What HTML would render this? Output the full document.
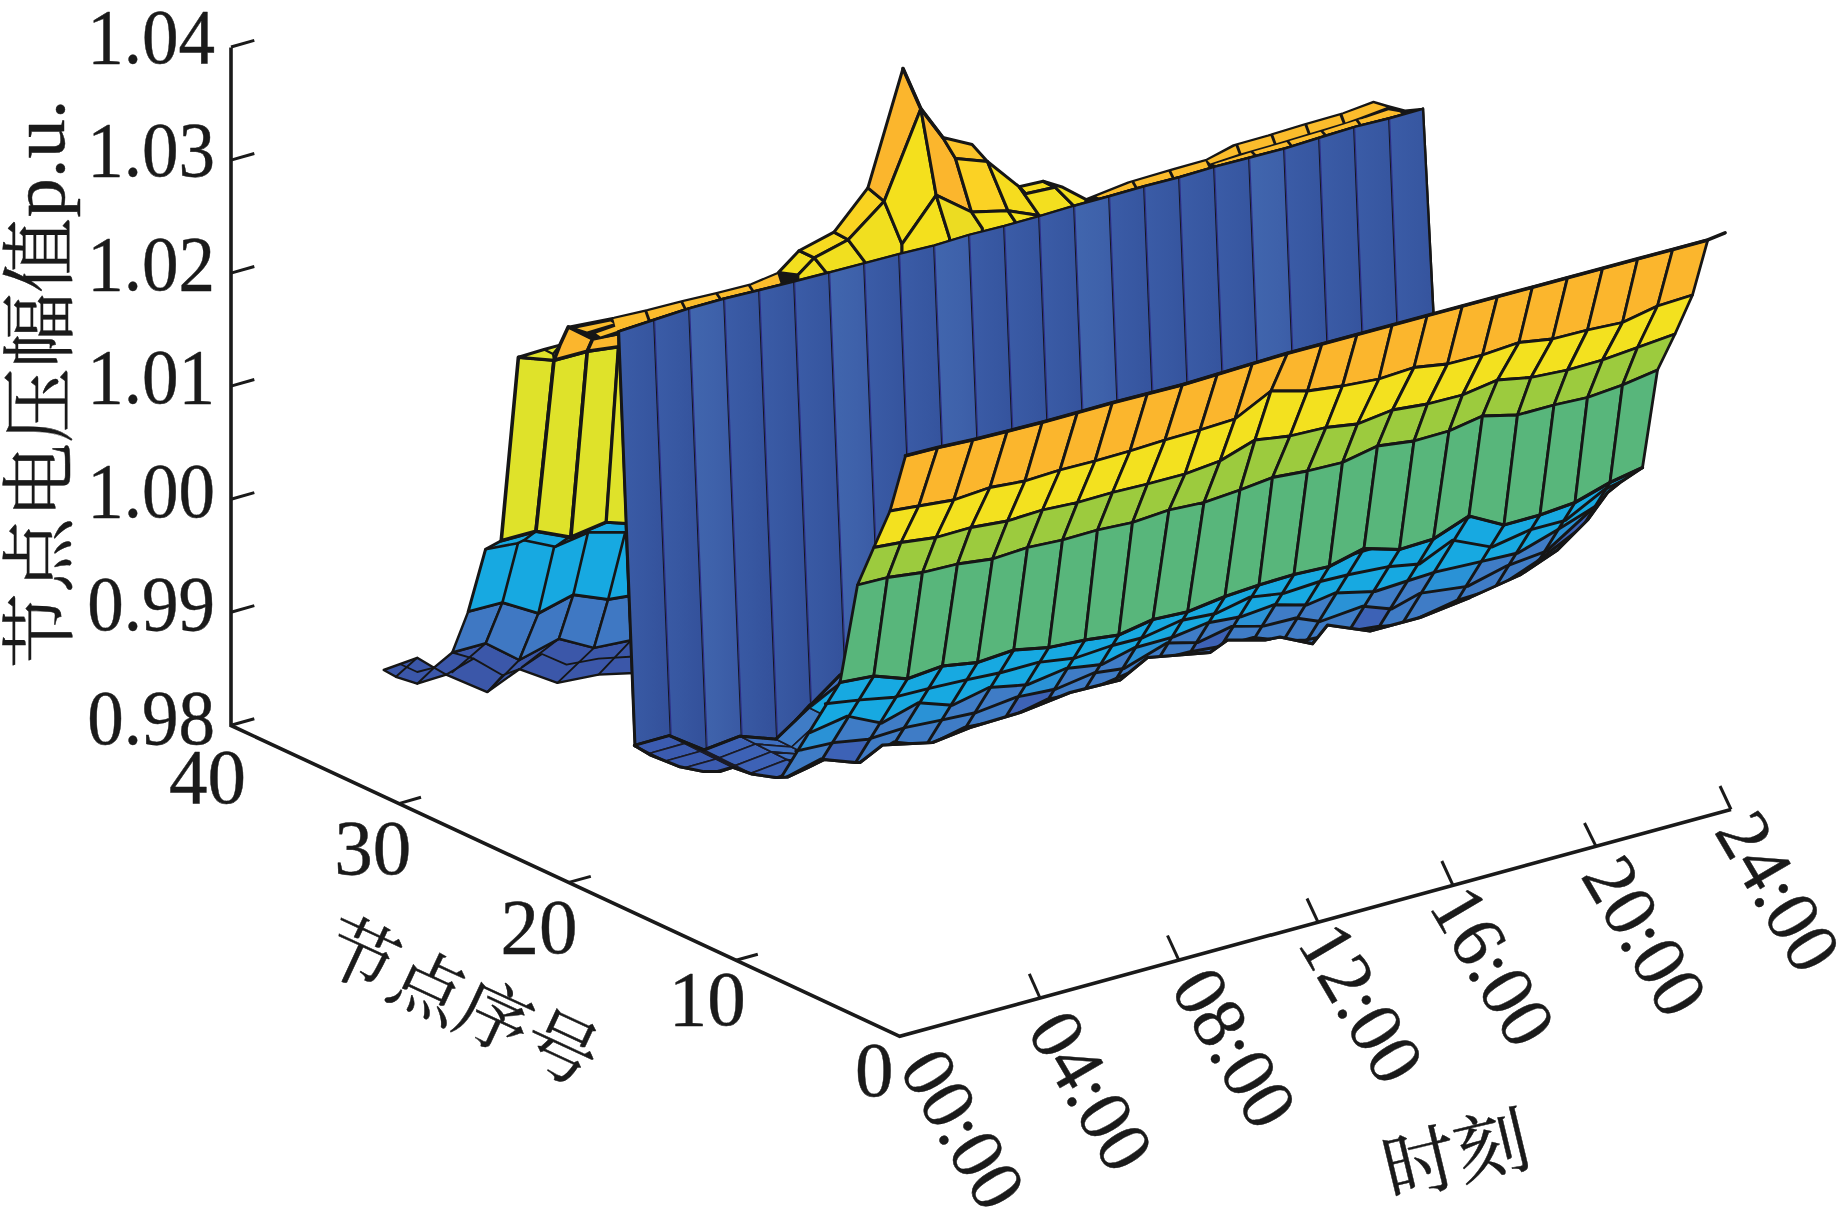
<!DOCTYPE html>
<html lang="zh"><head><meta charset="utf-8"><title>节点电压幅值</title>
<style>html,body{margin:0;padding:0;background:#fff}svg{display:block}</style></head>
<body><svg width="1842" height="1208" viewBox="0 0 1842 1208">
<rect width="1842" height="1208" fill="#ffffff"/>
<polyline points="231.0,47.5 231.0,725.5 899.7,1036.3 1731.0,809.5" fill="none" stroke="#1a1a1a" stroke-width="3.6" stroke-linejoin="miter" stroke-linecap="butt"/>
<line x1="231.0" y1="47.0" x2="254.3" y2="40.4" stroke="#1a1a1a" stroke-width="3.0" stroke-linecap="butt"/>
<line x1="231.0" y1="160.1" x2="254.3" y2="153.5" stroke="#1a1a1a" stroke-width="3.0" stroke-linecap="butt"/>
<line x1="231.0" y1="273.1" x2="254.3" y2="266.5" stroke="#1a1a1a" stroke-width="3.0" stroke-linecap="butt"/>
<line x1="231.0" y1="386.1" x2="254.3" y2="379.5" stroke="#1a1a1a" stroke-width="3.0" stroke-linecap="butt"/>
<line x1="231.0" y1="499.2" x2="254.3" y2="492.6" stroke="#1a1a1a" stroke-width="3.0" stroke-linecap="butt"/>
<line x1="231.0" y1="612.2" x2="254.3" y2="605.6" stroke="#1a1a1a" stroke-width="3.0" stroke-linecap="butt"/>
<line x1="231.0" y1="725.3" x2="254.3" y2="718.7" stroke="#1a1a1a" stroke-width="3.0" stroke-linecap="butt"/>
<line x1="398.8" y1="803.6" x2="421.0" y2="797.2" stroke="#1a1a1a" stroke-width="3.0" stroke-linecap="butt"/>
<line x1="568.8" y1="882.4" x2="590.8" y2="876.4" stroke="#1a1a1a" stroke-width="3.0" stroke-linecap="butt"/>
<line x1="735.9" y1="960.3" x2="757.8" y2="954.2" stroke="#1a1a1a" stroke-width="3.0" stroke-linecap="butt"/>
<line x1="1040.0" y1="998.0" x2="1029.3" y2="973.8" stroke="#1a1a1a" stroke-width="3.0" stroke-linecap="butt"/>
<line x1="1178.8" y1="960.2" x2="1167.5" y2="935.5" stroke="#1a1a1a" stroke-width="3.0" stroke-linecap="butt"/>
<line x1="1318.0" y1="922.2" x2="1307.0" y2="898.5" stroke="#1a1a1a" stroke-width="3.0" stroke-linecap="butt"/>
<line x1="1453.0" y1="885.4" x2="1441.8" y2="861.0" stroke="#1a1a1a" stroke-width="3.0" stroke-linecap="butt"/>
<line x1="1596.0" y1="846.4" x2="1584.5" y2="823.0" stroke="#1a1a1a" stroke-width="3.0" stroke-linecap="butt"/>
<line x1="1731.0" y1="809.5" x2="1720.0" y2="786.0" stroke="#1a1a1a" stroke-width="3.0" stroke-linecap="butt"/>
<text x="0" y="0.0" text-anchor="end" font-size="79.0" font-family='"Liberation Serif","Noto Serif CJK SC",serif' fill="#1a1a1a" stroke="#1a1a1a" stroke-width="0.45" stroke-linejoin="round" transform="translate(215.0,62.8) rotate(0.00) scale(0.925,1)">1.04</text>
<text x="0" y="0.0" text-anchor="end" font-size="79.0" font-family='"Liberation Serif","Noto Serif CJK SC",serif' fill="#1a1a1a" stroke="#1a1a1a" stroke-width="0.45" stroke-linejoin="round" transform="translate(215.0,176.2) rotate(0.00) scale(0.925,1)">1.03</text>
<text x="0" y="0.0" text-anchor="end" font-size="79.0" font-family='"Liberation Serif","Noto Serif CJK SC",serif' fill="#1a1a1a" stroke="#1a1a1a" stroke-width="0.45" stroke-linejoin="round" transform="translate(215.0,289.7) rotate(0.00) scale(0.925,1)">1.02</text>
<text x="0" y="0.0" text-anchor="end" font-size="79.0" font-family='"Liberation Serif","Noto Serif CJK SC",serif' fill="#1a1a1a" stroke="#1a1a1a" stroke-width="0.45" stroke-linejoin="round" transform="translate(215.0,403.2) rotate(0.00) scale(0.925,1)">1.01</text>
<text x="0" y="0.0" text-anchor="end" font-size="79.0" font-family='"Liberation Serif","Noto Serif CJK SC",serif' fill="#1a1a1a" stroke="#1a1a1a" stroke-width="0.45" stroke-linejoin="round" transform="translate(215.0,516.6) rotate(0.00) scale(0.925,1)">1.00</text>
<text x="0" y="0.0" text-anchor="end" font-size="79.0" font-family='"Liberation Serif","Noto Serif CJK SC",serif' fill="#1a1a1a" stroke="#1a1a1a" stroke-width="0.45" stroke-linejoin="round" transform="translate(215.0,630.0) rotate(0.00) scale(0.925,1)">0.99</text>
<text x="0" y="0.0" text-anchor="end" font-size="79.0" font-family='"Liberation Serif","Noto Serif CJK SC",serif' fill="#1a1a1a" stroke="#1a1a1a" stroke-width="0.45" stroke-linejoin="round" transform="translate(215.0,743.5) rotate(0.00) scale(0.925,1)">0.98</text>
<text x="0" y="0.0" text-anchor="middle" font-size="79.0" font-family='"Liberation Serif","Noto Serif CJK SC",serif' fill="#1a1a1a" stroke="#1a1a1a" stroke-width="0.45" stroke-linejoin="round" transform="translate(207.5,803.0) rotate(0.00) scale(0.975,1)">40</text>
<text x="0" y="0.0" text-anchor="middle" font-size="79.0" font-family='"Liberation Serif","Noto Serif CJK SC",serif' fill="#1a1a1a" stroke="#1a1a1a" stroke-width="0.45" stroke-linejoin="round" transform="translate(372.7,873.6) rotate(0.00) scale(0.975,1)">30</text>
<text x="0" y="0.0" text-anchor="middle" font-size="79.0" font-family='"Liberation Serif","Noto Serif CJK SC",serif' fill="#1a1a1a" stroke="#1a1a1a" stroke-width="0.45" stroke-linejoin="round" transform="translate(539.0,952.8) rotate(0.00) scale(0.975,1)">20</text>
<text x="0" y="0.0" text-anchor="middle" font-size="79.0" font-family='"Liberation Serif","Noto Serif CJK SC",serif' fill="#1a1a1a" stroke="#1a1a1a" stroke-width="0.45" stroke-linejoin="round" transform="translate(707.2,1025.0) rotate(0.00) scale(0.975,1)">10</text>
<text x="0" y="0.0" text-anchor="middle" font-size="79.0" font-family='"Liberation Serif","Noto Serif CJK SC",serif' fill="#1a1a1a" stroke="#1a1a1a" stroke-width="0.45" stroke-linejoin="round" transform="translate(874.2,1095.6) rotate(0.00) scale(0.975,1)">0</text>
<text x="0" y="25.5" text-anchor="middle" font-size="76.0" font-family='"Liberation Serif","Noto Serif CJK SC",serif' fill="#1a1a1a" stroke="#1a1a1a" stroke-width="0.45" stroke-linejoin="round" transform="translate(963.0,1129.0) rotate(59.50) scale(0.980,1)">00:00</text>
<text x="0" y="25.5" text-anchor="middle" font-size="76.0" font-family='"Liberation Serif","Noto Serif CJK SC",serif' fill="#1a1a1a" stroke="#1a1a1a" stroke-width="0.45" stroke-linejoin="round" transform="translate(1091.0,1090.8) rotate(59.50) scale(0.980,1)">04:00</text>
<text x="0" y="25.5" text-anchor="middle" font-size="76.0" font-family='"Liberation Serif","Noto Serif CJK SC",serif' fill="#1a1a1a" stroke="#1a1a1a" stroke-width="0.45" stroke-linejoin="round" transform="translate(1234.5,1047.8) rotate(59.50) scale(0.980,1)">08:00</text>
<text x="0" y="25.5" text-anchor="middle" font-size="76.0" font-family='"Liberation Serif","Noto Serif CJK SC",serif' fill="#1a1a1a" stroke="#1a1a1a" stroke-width="0.45" stroke-linejoin="round" transform="translate(1361.5,1003.0) rotate(59.50) scale(0.980,1)">12:00</text>
<text x="0" y="25.5" text-anchor="middle" font-size="76.0" font-family='"Liberation Serif","Noto Serif CJK SC",serif' fill="#1a1a1a" stroke="#1a1a1a" stroke-width="0.45" stroke-linejoin="round" transform="translate(1493.0,966.0) rotate(59.50) scale(0.980,1)">16:00</text>
<text x="0" y="25.5" text-anchor="middle" font-size="76.0" font-family='"Liberation Serif","Noto Serif CJK SC",serif' fill="#1a1a1a" stroke="#1a1a1a" stroke-width="0.45" stroke-linejoin="round" transform="translate(1645.0,936.0) rotate(59.50) scale(0.980,1)">20:00</text>
<text x="0" y="25.5" text-anchor="middle" font-size="76.0" font-family='"Liberation Serif","Noto Serif CJK SC",serif' fill="#1a1a1a" stroke="#1a1a1a" stroke-width="0.45" stroke-linejoin="round" transform="translate(1778.5,891.5) rotate(59.50) scale(0.980,1)">24:00</text>
<text x="0" y="27.0" text-anchor="middle" font-size="73.5" font-family='"Liberation Serif","Noto Serif CJK SC",serif' fill="#1a1a1a" stroke="#1a1a1a" stroke-width="0.45" stroke-linejoin="round" transform="translate(461.5,1001.0) rotate(24.80) scale(1.000,1)">节点序号</text>
<text x="0" y="27.0" text-anchor="middle" font-size="74.0" font-family='"Liberation Serif","Noto Serif CJK SC",serif' fill="#1a1a1a" stroke="#1a1a1a" stroke-width="0.45" stroke-linejoin="round" transform="translate(1456.0,1154.0) rotate(-13.50) scale(1.000,1)">时刻</text>
<text x="0" y="0.0" text-anchor="start" font-size="75.0" font-family='"Liberation Serif","Noto Serif CJK SC",serif' fill="#1a1a1a" stroke="#1a1a1a" stroke-width="0.45" stroke-linejoin="round" transform="translate(66.0,668.0) rotate(-90.00) scale(1.000,1)">节点电压幅值</text>
<text x="0" y="0.0" text-anchor="start" font-size="75.6" font-family='"Liberation Serif","Noto Serif CJK SC",serif' fill="#1a1a1a" stroke="#1a1a1a" stroke-width="0.45" stroke-linejoin="round" transform="translate(64.0,217.5) rotate(-90.00) scale(1.040,1)">p.u.</text>
<polygon points="383.7,670.0 417.2,657.8 434.0,667.7 452.3,652.5 485.8,643.3 519.3,660.0 558.9,638.8 594.0,647.9 631.0,640.3 634.0,673.0 598.5,674.6 557.4,682.9 519.3,669.2 487.3,692.1 446.2,674.6 417.2,683.7 395.9,676.8" fill="#3b57a9" stroke="#161616" stroke-width="2.4" stroke-linejoin="round" />
<polyline points="417.2,657.8 395.9,676.8" fill="none" stroke="#161616" stroke-width="1.9" stroke-linejoin="round" stroke-linecap="round" />
<polyline points="434.0,667.7 417.2,683.7" fill="none" stroke="#161616" stroke-width="1.9" stroke-linejoin="round" stroke-linecap="round" />
<polyline points="400.0,664.0 417.2,672.0 434.0,667.7" fill="none" stroke="#161616" stroke-width="1.9" stroke-linejoin="round" stroke-linecap="round" />
<polyline points="452.3,652.5 473.6,658.6 502.5,675.3 519.3,669.2" fill="none" stroke="#161616" stroke-width="1.9" stroke-linejoin="round" stroke-linecap="round" />
<polyline points="434.0,667.7 446.2,674.6" fill="none" stroke="#161616" stroke-width="1.9" stroke-linejoin="round" stroke-linecap="round" />
<polyline points="485.8,643.3 452.3,672.3" fill="none" stroke="#161616" stroke-width="1.9" stroke-linejoin="round" stroke-linecap="round" />
<polyline points="473.6,658.6 446.2,674.6" fill="none" stroke="#161616" stroke-width="1.9" stroke-linejoin="round" stroke-linecap="round" />
<polyline points="519.3,660.0 487.3,692.1" fill="none" stroke="#161616" stroke-width="1.9" stroke-linejoin="round" stroke-linecap="round" />
<polyline points="502.5,675.3 487.3,692.1" fill="none" stroke="#161616" stroke-width="1.9" stroke-linejoin="round" stroke-linecap="round" />
<polyline points="519.3,669.2 542.0,654.0 566.5,664.6 598.5,658.6 634.0,656.5" fill="none" stroke="#161616" stroke-width="1.9" stroke-linejoin="round" stroke-linecap="round" />
<polyline points="558.9,638.8 522.0,667.0" fill="none" stroke="#161616" stroke-width="1.9" stroke-linejoin="round" stroke-linecap="round" />
<polyline points="594.0,647.9 557.4,682.9" fill="none" stroke="#161616" stroke-width="1.9" stroke-linejoin="round" stroke-linecap="round" />
<polyline points="631.0,640.3 598.5,674.6" fill="none" stroke="#161616" stroke-width="1.9" stroke-linejoin="round" stroke-linecap="round" />
<polygon points="468.2,611.6 502.4,602.6 485.8,643.3 452.3,652.5" fill="#3f78c3" stroke="#161616" stroke-width="2.5" stroke-linejoin="round" />
<polygon points="502.4,602.6 538.4,613.4 519.3,660.0 485.8,643.3" fill="#3f78c3" stroke="#161616" stroke-width="2.5" stroke-linejoin="round" />
<polygon points="538.4,613.4 573.3,594.8 558.9,638.8 519.3,660.0" fill="#3f78c3" stroke="#161616" stroke-width="2.5" stroke-linejoin="round" />
<polygon points="573.3,594.8 608.1,599.6 594.0,647.9 558.9,638.8" fill="#3f78c3" stroke="#161616" stroke-width="2.5" stroke-linejoin="round" />
<polygon points="608.1,599.6 629.0,596.0 631.0,640.3 594.0,647.9" fill="#3f78c3" stroke="#161616" stroke-width="2.5" stroke-linejoin="round" />
<polygon points="485.6,549.2 501.2,540.8 536.0,531.2 570.9,537.2 606.3,522.2 626.0,523.4 629.0,596.0 608.1,599.6 573.3,594.8 538.4,613.4 502.4,602.6 468.2,611.6" fill="#17a9e1" stroke="#161616" stroke-width="3" stroke-linejoin="round" />
<polyline points="485.6,549.2 518.0,543.2 524.0,540.2 555.2,546.8 588.9,532.4 626.0,532.4" fill="none" stroke="#161616" stroke-width="2.6" stroke-linejoin="round" stroke-linecap="round" />
<polyline points="555.2,546.8 567.3,538.4 570.9,537.2" fill="none" stroke="#161616" stroke-width="2.6" stroke-linejoin="round" stroke-linecap="round" />
<polyline points="524.0,540.2 536.0,531.2" fill="none" stroke="#161616" stroke-width="2.6" stroke-linejoin="round" stroke-linecap="round" />
<polyline points="518.0,543.2 502.4,602.6" fill="none" stroke="#161616" stroke-width="2.6" stroke-linejoin="round" stroke-linecap="round" />
<polyline points="554.0,547.4 538.4,613.4" fill="none" stroke="#161616" stroke-width="2.6" stroke-linejoin="round" stroke-linecap="round" />
<polyline points="587.7,533.6 573.3,594.8" fill="none" stroke="#161616" stroke-width="2.6" stroke-linejoin="round" stroke-linecap="round" />
<polyline points="624.9,533.6 608.1,599.6" fill="none" stroke="#161616" stroke-width="2.6" stroke-linejoin="round" stroke-linecap="round" />
<polygon points="518.4,357.2 554.0,360.3 536.0,531.2 501.2,540.8" fill="#dfe22a" stroke="#161616" stroke-width="3.6" stroke-linejoin="round" />
<polygon points="554.0,360.3 587.3,351.2 570.9,537.2 536.0,531.2" fill="#dfe22a" stroke="#161616" stroke-width="3.6" stroke-linejoin="round" />
<polygon points="587.3,351.2 618.6,346.6 606.3,522.2 570.9,537.2" fill="#dfe22a" stroke="#161616" stroke-width="3.6" stroke-linejoin="round" />
<polygon points="618.6,346.6 622.0,346.0 627.0,523.4 606.3,522.2" fill="#dfe22a" stroke="#161616" stroke-width="3" stroke-linejoin="round" />
<polygon points="518.4,357.2 544.0,349.5 559.9,345.1 554.0,360.3" fill="#dfe22a" stroke="#161616" stroke-width="3" stroke-linejoin="round" />
<polyline points="544.0,349.5 553.0,354.0 554.0,360.3" fill="none" stroke="#161616" stroke-width="2.2" stroke-linejoin="round" stroke-linecap="round" />
<polyline points="553.0,354.0 559.9,345.1" fill="none" stroke="#161616" stroke-width="2.2" stroke-linejoin="round" stroke-linecap="round" />
<polygon points="559.9,345.1 568.3,326.8 592.7,339.0 587.3,351.2 554.0,360.3" fill="#fbb62d" stroke="#161616" stroke-width="3.6" stroke-linejoin="round" />
<polygon points="587.3,351.2 592.7,339.0 619.0,333.7 619.0,346.6" fill="#fbb62d" stroke="#161616" stroke-width="3.4" stroke-linejoin="round" />
<polygon points="568.3,326.8 614.0,317.7 647.5,310.0 682.5,301.0 717.6,292.6 751.0,284.2 778.3,272.6 799.0,262.0 800.0,282.9 758.7,293.3 723.7,301.7 688.6,311.6 653.6,323.0 618.6,334.4 592.7,339.0" fill="#161616" stroke="#161616" stroke-width="2" stroke-linejoin="round" />
<polygon points="613.4,319.1 644.6,312.0 647.6,320.6 616.4,330.7" fill="#fbbc2c"/>
<polygon points="647.4,311.3 680.6,302.8 683.6,308.8 650.4,319.6" fill="#fbbc2c"/>
<polygon points="683.4,302.1 715.6,294.4 718.6,298.7 686.4,307.9" fill="#fbbc2c"/>
<polygon points="718.4,293.7 748.1,286.2 751.1,290.7 721.4,297.9" fill="#fbbc2c"/>
<polygon points="750.9,285.5 777.6,274.2 780.6,283.4 753.9,290.1" fill="#fbbc2c"/>
<polygon points="577.0,328.3 610.5,321.6 613.5,323.6 587.0,331.6" fill="#fbbc2c"/>
<polygon points="596.0,333.4 618.0,325.8 620.0,328.0 620.0,330.0 600.5,336.4" fill="#fbbc2c"/>
<polygon points="1086.6,199.0 1128.0,182.4 1173.5,169.0 1206.6,159.7 1233.5,145.2 1268.0,135.5 1303.9,124.5 1343.2,113.1 1373.5,101.7 1388.0,105.9 1405.0,110.5 1423.0,108.8 1423.0,111.8 1355.6,129.6 1285.2,151.3 1215.0,169.7 1145.0,189.0 1086.6,205.4" fill="#161616" stroke="#161616" stroke-width="2" stroke-linejoin="round" />
<polygon points="1096.4,196.4 1131.6,182.6 1134.6,187.8 1099.4,197.7" fill="#fbbc2c"/>
<polygon points="1134.4,181.8 1168.6,171.7 1171.6,178.0 1137.4,187.0" fill="#fbbc2c"/>
<polygon points="1171.4,170.9 1205.6,161.3 1208.6,167.4 1174.4,177.2" fill="#fbbc2c"/>
<polygon points="1207.4,160.6 1235.6,145.9 1238.6,154.1 1210.4,163.5" fill="#fbbc2c"/>
<polygon points="1238.4,145.1 1270.6,136.0 1273.6,144.0 1241.4,153.2" fill="#fbbc2c"/>
<polygon points="1273.4,135.1 1304.6,125.6 1307.6,133.8 1276.4,143.2" fill="#fbbc2c"/>
<polygon points="1307.4,124.8 1339.6,115.4 1342.6,123.3 1310.4,133.0" fill="#fbbc2c"/>
<polygon points="1213.4,164.3 1250.6,152.4 1253.6,155.4 1216.4,165.1" fill="#fbbc2c"/>
<polygon points="1253.4,151.6 1286.6,141.9 1289.6,145.7 1256.4,154.6" fill="#fbbc2c"/>
<polygon points="1289.4,141.1 1320.6,131.7 1323.6,135.2 1292.4,144.9" fill="#fbbc2c"/>
<polygon points="1323.4,130.9 1355.6,120.7 1358.6,124.7 1326.4,134.3" fill="#fbbc2c"/>
<polygon points="1358.4,119.7 1398.6,112.4 1401.6,113.7 1361.4,124.0" fill="#fbbc2c"/>
<polygon points="1362.0,119.3 1388.5,110.3 1401.0,112.4 1398.0,113.2 1370.0,118.5" fill="#fbbc2c"/>
<polygon points="1342.6,114.6 1373.5,103.3 1386.5,107.2 1360.0,117.2 1345.5,122.4" fill="#fbbc2c"/>
<polygon points="778.3,272.6 799.0,250.7 814.3,257.8 797.9,275.0" fill="#f3df1f" stroke="#161616" stroke-width="3.0" stroke-linejoin="round" />
<polygon points="797.9,275.0 814.3,257.8 826.3,272.6 826.3,275.2 797.9,282.4" fill="#f3df1f" stroke="#161616" stroke-width="3.0" stroke-linejoin="round" />
<polygon points="799.0,250.7 834.0,232.1 848.2,239.8 814.3,257.8" fill="#f7da20" stroke="#161616" stroke-width="3.0" stroke-linejoin="round" />
<polygon points="814.3,257.8 848.2,239.8 864.6,261.6 864.6,265.1 826.3,275.2 826.3,272.6" fill="#f1df1f" stroke="#161616" stroke-width="3.0" stroke-linejoin="round" />
<polygon points="834.0,232.1 867.9,187.9 884.2,201.3 848.2,239.8" fill="#f9d321" stroke="#161616" stroke-width="3.0" stroke-linejoin="round" />
<polygon points="848.2,239.8 884.2,201.3 902.0,244.2 902.0,255.3 864.6,265.1 864.6,261.6" fill="#f1df1f" stroke="#161616" stroke-width="3.0" stroke-linejoin="round" />
<polygon points="903.0,68.5 920.8,108.7 884.2,201.3 867.9,187.9" fill="#fbb62d" stroke="#161616" stroke-width="3.0" stroke-linejoin="round" />
<polygon points="920.8,108.7 936.2,195.2 902.0,244.2 884.2,201.3" fill="#f4e01d" stroke="#161616" stroke-width="3.0" stroke-linejoin="round" />
<polygon points="920.8,108.7 942.8,137.5 955.5,158.5 971.5,212.0 936.2,195.2" fill="#fbb62d" stroke="#161616" stroke-width="3.0" stroke-linejoin="round" />
<polygon points="942.8,137.5 972.1,144.5 987.4,161.5 955.5,158.5" fill="#fcc42b" stroke="#161616" stroke-width="3.0" stroke-linejoin="round" />
<polygon points="955.5,158.5 987.4,161.5 1008.0,210.8 971.5,212.0" fill="#fbd224" stroke="#161616" stroke-width="3.0" stroke-linejoin="round" />
<polygon points="987.4,161.5 1019.1,186.7 1039.2,215.5 1008.0,210.8" fill="#f6dc1f" stroke="#161616" stroke-width="3.0" stroke-linejoin="round" />
<polygon points="1019.1,186.7 1043.2,181.3 1055.2,187.3 1025.7,193.8" fill="#f6dc20" stroke="#161616" stroke-width="3.0" stroke-linejoin="round" />
<polygon points="1025.7,193.8 1055.2,187.3 1072.7,204.8 1072.7,208.2 1039.2,218.2 1039.2,215.5 1019.1,186.7" fill="#f3df1f" stroke="#161616" stroke-width="3.0" stroke-linejoin="round" />
<polygon points="1043.2,181.3 1062.8,187.3 1085.8,199.3 1085.8,204.6 1072.7,208.2 1072.7,204.8 1055.2,187.3" fill="#f3df1f" stroke="#161616" stroke-width="3.0" stroke-linejoin="round" />
<polygon points="902.0,244.2 936.2,195.2 949.6,238.1 949.6,242.8 902.0,255.3" fill="#f4e01d" stroke="#161616" stroke-width="3.0" stroke-linejoin="round" />
<polygon points="936.2,195.2 971.5,212.0 982.4,228.3 982.4,233.5 949.6,242.8 949.6,238.1" fill="#ecdc22" stroke="#161616" stroke-width="3.0" stroke-linejoin="round" />
<polygon points="971.5,212.0 1008.0,210.8 1015.2,221.7 1015.2,224.9 982.4,233.5 982.4,228.3" fill="#f4e01d" stroke="#161616" stroke-width="3.0" stroke-linejoin="round" />
<polygon points="1008.0,210.8 1039.2,215.5 1039.2,218.2 1015.2,224.9 1015.2,221.7" fill="#f4e01d" stroke="#161616" stroke-width="3.0" stroke-linejoin="round" />
<polyline points="903.0,68.5 920.8,108.7 942.8,137.5" fill="none" stroke="#161616" stroke-width="3.6" stroke-linejoin="round" stroke-linecap="round" />
<defs><clipPath id="cw"><polygon points="618.6,331.4 653.6,320.0 688.6,308.6 723.7,298.7 758.7,290.3 793.8,281.5 828.5,272.6 864.4,263.2 899.3,254.0 934.3,245.5 969.3,234.8 1004.3,226.0 1040.0,216.0 1075.0,205.5 1110.0,196.0 1145.0,186.0 1180.0,177.0 1215.0,166.7 1250.0,157.5 1285.2,148.3 1320.0,137.5 1355.6,126.6 1388.7,118.5 1423.0,108.8 1433.5,314.0 1252.4,363.6 1077.4,412.5 905.5,455.8 840.0,683.0 808.5,704.0 776.5,739.5 741.0,736.0 704.0,749.6 667.0,736.0 635.0,746.0"/></clipPath>
<linearGradient id="gw" x1="0" x2="1" y1="0" y2="0"><stop offset="0" stop-color="#3b5ca7"/><stop offset="0.5" stop-color="#3757a1"/><stop offset="1" stop-color="#33509a"/></linearGradient>
<linearGradient id="gw2" x1="0" x2="1" y1="0" y2="0"><stop offset="0" stop-color="#4166ae"/><stop offset="0.5" stop-color="#3e61aa"/><stop offset="1" stop-color="#3959a3"/></linearGradient></defs>
<polygon points="618.6,331.4 653.6,320.0 688.6,308.6 723.7,298.7 758.7,290.3 793.8,281.5 828.5,272.6 864.4,263.2 899.3,254.0 934.3,245.5 969.3,234.8 1004.3,226.0 1040.0,216.0 1075.0,205.5 1110.0,196.0 1145.0,186.0 1180.0,177.0 1215.0,166.7 1250.0,157.5 1285.2,148.3 1320.0,137.5 1355.6,126.6 1388.7,118.5 1423.0,108.8 1433.5,314.0 1252.4,363.6 1077.4,412.5 905.5,455.8 840.0,683.0 808.5,704.0 776.5,739.5 741.0,736.0 704.0,749.6 667.0,736.0 635.0,746.0" fill="#3858a2" stroke="#161616" stroke-width="2.4" stroke-linejoin="round" />
<g clip-path="url(#cw)">
<polygon points="618.6,327.4 653.6,316.0 671.2,760.0 635.7,760.0" fill="url(#gw)"/>
<polygon points="653.6,316.0 688.6,304.6 706.7,760.0 671.2,760.0" fill="url(#gw)"/>
<polygon points="688.6,304.6 723.6,294.7 742.1,760.0 706.7,760.0" fill="url(#gw2)"/>
<polygon points="723.6,294.7 758.6,286.3 777.4,760.0 742.1,760.0" fill="url(#gw)"/>
<polygon points="758.6,286.3 793.6,277.6 812.7,760.0 777.4,760.0" fill="url(#gw)"/>
<polygon points="793.6,277.6 828.6,268.6 848.1,760.0 812.7,760.0" fill="url(#gw)"/>
<polygon points="828.6,268.6 863.6,259.4 883.5,760.0 848.1,760.0" fill="url(#gw2)"/>
<polygon points="863.6,259.4 898.6,250.2 918.8,760.0 883.5,760.0" fill="url(#gw)"/>
<polygon points="898.6,250.2 933.6,241.7 954.2,760.0 918.8,760.0" fill="url(#gw)"/>
<polygon points="933.6,241.7 968.6,231.0 989.6,760.0 954.2,760.0" fill="url(#gw2)"/>
<polygon points="968.6,231.0 1003.6,222.2 1025.0,760.0 989.6,760.0" fill="url(#gw)"/>
<polygon points="1003.6,222.2 1038.6,212.4 1060.3,760.0 1025.0,760.0" fill="url(#gw)"/>
<polygon points="1038.6,212.4 1073.6,201.9 1095.8,760.0 1060.3,760.0" fill="url(#gw)"/>
<polygon points="1073.6,201.9 1108.6,192.4 1131.1,760.0 1095.8,760.0" fill="url(#gw2)"/>
<polygon points="1108.6,192.4 1143.6,182.4 1166.5,760.0 1131.1,760.0" fill="url(#gw)"/>
<polygon points="1143.6,182.4 1178.6,173.4 1201.9,760.0 1166.5,760.0" fill="url(#gw)"/>
<polygon points="1178.6,173.4 1213.6,163.1 1237.3,760.0 1201.9,760.0" fill="url(#gw)"/>
<polygon points="1213.6,163.1 1248.6,153.9 1272.7,760.0 1237.3,760.0" fill="url(#gw)"/>
<polygon points="1248.6,153.9 1283.6,144.7 1308.1,760.0 1272.7,760.0" fill="url(#gw2)"/>
<polygon points="1283.6,144.7 1318.6,133.9 1343.5,760.0 1308.1,760.0" fill="url(#gw)"/>
<polygon points="1318.6,133.9 1353.6,123.2 1378.9,760.0 1343.5,760.0" fill="url(#gw)"/>
<polygon points="1353.6,123.2 1388.6,114.5 1414.3,760.0 1378.9,760.0" fill="url(#gw)"/>
<polygon points="1388.6,114.5 1423.6,104.6 1449.7,760.0 1414.3,760.0" fill="url(#gw)"/>
<line x1="654.7" y1="320.0" x2="672.3" y2="760.0" stroke="#2e2c88" stroke-width="1.1" stroke-linecap="butt" />
<line x1="653.6" y1="320.0" x2="671.2" y2="760.0" stroke="#15151f" stroke-width="1.0" stroke-linecap="butt" />
<line x1="689.7" y1="308.6" x2="707.8" y2="760.0" stroke="#2e2c88" stroke-width="1.1" stroke-linecap="butt" />
<line x1="688.6" y1="308.6" x2="706.7" y2="760.0" stroke="#15151f" stroke-width="1.0" stroke-linecap="butt" />
<line x1="724.7" y1="298.7" x2="743.2" y2="760.0" stroke="#2e2c88" stroke-width="1.1" stroke-linecap="butt" />
<line x1="723.6" y1="298.7" x2="742.1" y2="760.0" stroke="#15151f" stroke-width="1.0" stroke-linecap="butt" />
<line x1="759.7" y1="290.3" x2="778.5" y2="760.0" stroke="#2e2c88" stroke-width="1.1" stroke-linecap="butt" />
<line x1="758.6" y1="290.3" x2="777.4" y2="760.0" stroke="#15151f" stroke-width="1.0" stroke-linecap="butt" />
<line x1="794.7" y1="281.6" x2="813.8" y2="760.0" stroke="#2e2c88" stroke-width="1.1" stroke-linecap="butt" />
<line x1="793.6" y1="281.6" x2="812.7" y2="760.0" stroke="#15151f" stroke-width="1.0" stroke-linecap="butt" />
<line x1="829.7" y1="272.6" x2="849.2" y2="760.0" stroke="#2e2c88" stroke-width="1.1" stroke-linecap="butt" />
<line x1="828.6" y1="272.6" x2="848.1" y2="760.0" stroke="#15151f" stroke-width="1.0" stroke-linecap="butt" />
<line x1="864.7" y1="263.4" x2="884.6" y2="760.0" stroke="#2e2c88" stroke-width="1.1" stroke-linecap="butt" />
<line x1="863.6" y1="263.4" x2="883.5" y2="760.0" stroke="#15151f" stroke-width="1.0" stroke-linecap="butt" />
<line x1="899.7" y1="254.2" x2="919.9" y2="760.0" stroke="#2e2c88" stroke-width="1.1" stroke-linecap="butt" />
<line x1="898.6" y1="254.2" x2="918.8" y2="760.0" stroke="#15151f" stroke-width="1.0" stroke-linecap="butt" />
<line x1="934.7" y1="245.7" x2="955.3" y2="760.0" stroke="#2e2c88" stroke-width="1.1" stroke-linecap="butt" />
<line x1="933.6" y1="245.7" x2="954.2" y2="760.0" stroke="#15151f" stroke-width="1.0" stroke-linecap="butt" />
<line x1="969.7" y1="235.0" x2="990.7" y2="760.0" stroke="#2e2c88" stroke-width="1.1" stroke-linecap="butt" />
<line x1="968.6" y1="235.0" x2="989.6" y2="760.0" stroke="#15151f" stroke-width="1.0" stroke-linecap="butt" />
<line x1="1004.7" y1="226.2" x2="1026.1" y2="760.0" stroke="#2e2c88" stroke-width="1.1" stroke-linecap="butt" />
<line x1="1003.6" y1="226.2" x2="1025.0" y2="760.0" stroke="#15151f" stroke-width="1.0" stroke-linecap="butt" />
<line x1="1039.7" y1="216.4" x2="1061.4" y2="760.0" stroke="#2e2c88" stroke-width="1.1" stroke-linecap="butt" />
<line x1="1038.6" y1="216.4" x2="1060.3" y2="760.0" stroke="#15151f" stroke-width="1.0" stroke-linecap="butt" />
<line x1="1074.7" y1="205.9" x2="1096.9" y2="760.0" stroke="#2e2c88" stroke-width="1.1" stroke-linecap="butt" />
<line x1="1073.6" y1="205.9" x2="1095.8" y2="760.0" stroke="#15151f" stroke-width="1.0" stroke-linecap="butt" />
<line x1="1109.7" y1="196.4" x2="1132.2" y2="760.0" stroke="#2e2c88" stroke-width="1.1" stroke-linecap="butt" />
<line x1="1108.6" y1="196.4" x2="1131.1" y2="760.0" stroke="#15151f" stroke-width="1.0" stroke-linecap="butt" />
<line x1="1144.7" y1="186.4" x2="1167.6" y2="760.0" stroke="#2e2c88" stroke-width="1.1" stroke-linecap="butt" />
<line x1="1143.6" y1="186.4" x2="1166.5" y2="760.0" stroke="#15151f" stroke-width="1.0" stroke-linecap="butt" />
<line x1="1179.7" y1="177.4" x2="1203.0" y2="760.0" stroke="#2e2c88" stroke-width="1.1" stroke-linecap="butt" />
<line x1="1178.6" y1="177.4" x2="1201.9" y2="760.0" stroke="#15151f" stroke-width="1.0" stroke-linecap="butt" />
<line x1="1214.7" y1="167.1" x2="1238.4" y2="760.0" stroke="#2e2c88" stroke-width="1.1" stroke-linecap="butt" />
<line x1="1213.6" y1="167.1" x2="1237.3" y2="760.0" stroke="#15151f" stroke-width="1.0" stroke-linecap="butt" />
<line x1="1249.7" y1="157.9" x2="1273.8" y2="760.0" stroke="#2e2c88" stroke-width="1.1" stroke-linecap="butt" />
<line x1="1248.6" y1="157.9" x2="1272.7" y2="760.0" stroke="#15151f" stroke-width="1.0" stroke-linecap="butt" />
<line x1="1284.7" y1="148.7" x2="1309.2" y2="760.0" stroke="#2e2c88" stroke-width="1.1" stroke-linecap="butt" />
<line x1="1283.6" y1="148.7" x2="1308.1" y2="760.0" stroke="#15151f" stroke-width="1.0" stroke-linecap="butt" />
<line x1="1319.7" y1="137.9" x2="1344.6" y2="760.0" stroke="#2e2c88" stroke-width="1.1" stroke-linecap="butt" />
<line x1="1318.6" y1="137.9" x2="1343.5" y2="760.0" stroke="#15151f" stroke-width="1.0" stroke-linecap="butt" />
<line x1="1354.7" y1="127.2" x2="1380.0" y2="760.0" stroke="#2e2c88" stroke-width="1.1" stroke-linecap="butt" />
<line x1="1353.6" y1="127.2" x2="1378.9" y2="760.0" stroke="#15151f" stroke-width="1.0" stroke-linecap="butt" />
<line x1="1389.7" y1="118.5" x2="1415.4" y2="760.0" stroke="#2e2c88" stroke-width="1.1" stroke-linecap="butt" />
<line x1="1388.6" y1="118.5" x2="1414.3" y2="760.0" stroke="#15151f" stroke-width="1.0" stroke-linecap="butt" />
</g>
<polyline points="635.0,746.0 618.6,331.4" fill="none" stroke="#161616" stroke-width="3" stroke-linejoin="round" stroke-linecap="round" />
<polyline points="1423.0,108.8 1433.5,314.0" fill="none" stroke="#161616" stroke-width="2.4" stroke-linejoin="round" stroke-linecap="round" />
<polyline points="618.6,331.4 653.6,320.0 688.6,308.6 723.7,298.7 758.7,290.3 793.8,281.5 828.5,272.6" fill="none" stroke="#161616" stroke-width="2.6" stroke-linejoin="round" stroke-linecap="round" />
<polyline points="828.5,272.6 864.4,263.2 899.3,254.0 934.3,245.5 969.3,234.8 1004.3,226.0 1040.0,216.0 1075.0,205.5" fill="none" stroke="#161616" stroke-width="2.2" stroke-linejoin="round" stroke-linecap="round" />
<polyline points="1075.0,205.5 1110.0,196.0 1145.0,186.0 1180.0,177.0 1215.0,166.7 1250.0,157.5 1285.2,148.3 1320.0,137.5 1355.6,126.6 1388.7,118.5 1423.0,108.8" fill="none" stroke="#161616" stroke-width="2.4" stroke-linejoin="round" stroke-linecap="round" />
<defs><clipPath id="cs"><polygon points="634.4,745.4 650.0,754.8 680.0,766.8 704.0,771.6 719.6,771.6 732.8,767.4 752.0,774.0 776.0,777.6 788.0,777.0 807.3,768.0 824.0,759.6 855.7,762.5 860.0,762.5 882.5,745.0 932.5,742.5 970.0,727.5 1020.0,712.5 1070.0,692.5 1120.0,680.0 1147.5,657.5 1210.0,652.5 1227.5,640.0 1265.0,640.0 1280.0,637.0 1312.5,643.8 1327.5,625.0 1370.0,631.0 1420.0,617.5 1470.0,597.5 1520.0,575.0 1557.5,550.0 1587.5,520.0 1607.5,492.5 1620.0,482.5 1642.5,467.5 1642.5,460.0 1400.0,540.0 1100.0,630.0 840.0,675.0 809.7,706.0 795.0,721.0 776.0,739.2 740.0,736.2 704.0,750.0 669.2,735.6 634.4,745.4"/></clipPath></defs>
<polygon points="634.4,745.4 650.0,754.8 680.0,766.8 704.0,771.6 719.6,771.6 732.8,767.4 752.0,774.0 776.0,777.6 788.0,777.0 807.3,768.0 824.0,759.6 855.7,762.5 860.0,762.5 882.5,745.0 932.5,742.5 970.0,727.5 1020.0,712.5 1070.0,692.5 1120.0,680.0 1147.5,657.5 1210.0,652.5 1227.5,640.0 1265.0,640.0 1280.0,637.0 1312.5,643.8 1327.5,625.0 1370.0,631.0 1420.0,617.5 1470.0,597.5 1520.0,575.0 1557.5,550.0 1587.5,520.0 1607.5,492.5 1620.0,482.5 1642.5,467.5 1642.5,460.0 1400.0,540.0 1100.0,630.0 840.0,675.0 809.7,706.0 795.0,721.0 776.0,739.2 740.0,736.2 704.0,750.0 669.2,735.6 634.4,745.4" fill="#3e6fbf" stroke="#161616" stroke-width="3" stroke-linejoin="round" />
<g clip-path="url(#cs)">
<polygon points="634.4,745.4 669.2,735.6 684.8,743.4 650.0,753.2" fill="#3b5bb0" stroke="#1b1b26" stroke-width="1.7" stroke-linejoin="round"/>
<polygon points="669.2,735.6 704.0,750.0 719.6,757.8 684.8,743.4" fill="#3c5db2" stroke="#1b1b26" stroke-width="1.7" stroke-linejoin="round"/>
<polygon points="704.0,750.0 740.0,736.2 755.6,744.0 719.6,757.8" fill="#3d62b6" stroke="#1b1b26" stroke-width="1.7" stroke-linejoin="round"/>
<polygon points="740.0,736.2 776.0,739.2 791.6,747.0 755.6,744.0" fill="#3f70c0" stroke="#1b1b26" stroke-width="1.7" stroke-linejoin="round"/>
<polygon points="776.0,739.2 809.7,708.0 825.3,715.8 791.6,747.0" fill="#3f7cc6" stroke="#1b1b26" stroke-width="1.7" stroke-linejoin="round"/>
<polygon points="809.7,708.0 840.0,684.0 855.6,691.8 825.3,715.8" fill="#17a9e1" stroke="#1b1b26" stroke-width="1.7" stroke-linejoin="round"/>
<polygon points="650.0,753.2 684.8,743.4 700.4,751.2 665.6,761.0" fill="#3b5bb0" stroke="#1b1b26" stroke-width="1.7" stroke-linejoin="round"/>
<polygon points="684.8,743.4 719.6,757.8 735.2,765.6 700.4,751.2" fill="#3c5db2" stroke="#1b1b26" stroke-width="1.7" stroke-linejoin="round"/>
<polygon points="719.6,757.8 755.6,744.0 771.2,751.8 735.2,765.6" fill="#3d62b6" stroke="#1b1b26" stroke-width="1.7" stroke-linejoin="round"/>
<polygon points="755.6,744.0 791.6,747.0 807.2,754.8 771.2,751.8" fill="#3f70c0" stroke="#1b1b26" stroke-width="1.7" stroke-linejoin="round"/>
<polygon points="791.6,747.0 825.3,715.8 840.9,723.6 807.2,754.8" fill="#3f7cc6" stroke="#1b1b26" stroke-width="1.7" stroke-linejoin="round"/>
<polygon points="825.3,715.8 855.6,691.8 871.2,699.6 840.9,723.6" fill="#17a9e1" stroke="#1b1b26" stroke-width="1.7" stroke-linejoin="round"/>
<polygon points="665.6,761.0 700.4,751.2 716.0,759.0 681.2,768.8" fill="#3b5bb0" stroke="#1b1b26" stroke-width="1.7" stroke-linejoin="round"/>
<polygon points="700.4,751.2 735.2,765.6 750.8,773.4 716.0,759.0" fill="#3c5db2" stroke="#1b1b26" stroke-width="1.7" stroke-linejoin="round"/>
<polygon points="735.2,765.6 771.2,751.8 786.8,759.6 750.8,773.4" fill="#3d62b6" stroke="#1b1b26" stroke-width="1.7" stroke-linejoin="round"/>
<polygon points="771.2,751.8 807.2,754.8 822.8,762.6 786.8,759.6" fill="#3f70c0" stroke="#1b1b26" stroke-width="1.7" stroke-linejoin="round"/>
<polygon points="807.2,754.8 840.9,723.6 856.5,731.4 822.8,762.6" fill="#3f7cc6" stroke="#1b1b26" stroke-width="1.7" stroke-linejoin="round"/>
<polygon points="840.9,723.6 871.2,699.6 886.8,707.4 856.5,731.4" fill="#3f7cc6" stroke="#1b1b26" stroke-width="1.7" stroke-linejoin="round"/>
<polygon points="681.2,768.8 716.0,759.0 731.6,766.8 696.8,776.6" fill="#3b5bb0" stroke="#1b1b26" stroke-width="1.7" stroke-linejoin="round"/>
<polygon points="716.0,759.0 750.8,773.4 766.4,781.2 731.6,766.8" fill="#3c5db2" stroke="#1b1b26" stroke-width="1.7" stroke-linejoin="round"/>
<polygon points="750.8,773.4 786.8,759.6 802.4,767.4 766.4,781.2" fill="#3d62b6" stroke="#1b1b26" stroke-width="1.7" stroke-linejoin="round"/>
<polygon points="786.8,759.6 822.8,762.6 838.4,770.4 802.4,767.4" fill="#3f70c0" stroke="#1b1b26" stroke-width="1.7" stroke-linejoin="round"/>
<polygon points="822.8,762.6 856.5,731.4 872.1,739.2 838.4,770.4" fill="#3f7cc6" stroke="#1b1b26" stroke-width="1.7" stroke-linejoin="round"/>
<polygon points="856.5,731.4 886.8,707.4 902.4,715.2 872.1,739.2" fill="#3f7cc6" stroke="#1b1b26" stroke-width="1.7" stroke-linejoin="round"/>
<polygon points="840.0,682.5 873.8,676.0 860.5,697.4 825.3,706.2" fill="#17a9e1"/>
<polygon points="825.3,706.2 860.5,697.4 847.2,718.8 810.5,730.0" fill="#17a9e1"/>
<polygon points="810.5,730.0 847.2,718.8 834.0,740.1 795.8,753.8" fill="#2a92d6"/>
<polygon points="795.8,753.8 834.0,740.1 820.7,761.5 781.1,777.5" fill="#3f7cc6"/>
<polygon points="873.8,676.0 907.5,678.8 894.5,699.8 860.5,697.4" fill="#17a9e1"/>
<polygon points="860.5,697.4 894.5,699.8 881.5,720.8 847.2,718.8" fill="#17a9e1"/>
<polygon points="847.2,718.8 881.5,720.8 868.4,741.8 834.0,740.1" fill="#3f7cc6"/>
<polygon points="834.0,740.1 868.4,741.8 855.4,762.8 820.7,761.5" fill="#3d62b6"/>
<polygon points="907.5,678.8 942.5,666.0 930.3,685.6 894.5,699.8" fill="#17a9e1"/>
<polygon points="894.5,699.8 930.3,685.6 918.2,705.2 881.5,720.8" fill="#17a9e1"/>
<polygon points="881.5,720.8 918.2,705.2 906.0,724.9 868.4,741.8" fill="#3f7cc6"/>
<polygon points="868.4,741.8 906.0,724.9 893.8,744.5 855.4,762.8" fill="#3f7cc6"/>
<polygon points="942.5,666.0 977.5,662.5 965.0,682.6 930.3,685.6" fill="#17a9e1"/>
<polygon points="930.3,685.6 965.0,682.6 952.5,702.8 918.2,705.2" fill="#17a9e1"/>
<polygon points="918.2,705.2 952.5,702.8 940.1,722.9 906.0,724.9" fill="#2a92d6"/>
<polygon points="906.0,724.9 940.1,722.9 927.6,743.0 893.8,744.5" fill="#3f7cc6"/>
<polygon points="977.5,662.5 1013.8,650.0 1001.4,670.0 965.0,682.6" fill="#17a9e1"/>
<polygon points="965.0,682.6 1001.4,670.0 989.0,690.0 952.5,702.8" fill="#17a9e1"/>
<polygon points="952.5,702.8 989.0,690.0 976.5,710.0 940.1,722.9" fill="#3f7cc6"/>
<polygon points="940.1,722.9 976.5,710.0 964.1,730.0 927.6,743.0" fill="#3f7cc6"/>
<polygon points="1013.8,650.0 1048.8,647.5 1038.0,664.9 1001.4,670.0" fill="#17a9e1"/>
<polygon points="1001.4,670.0 1038.0,664.9 1027.2,682.2 989.0,690.0" fill="#17a9e1"/>
<polygon points="989.0,690.0 1027.2,682.2 1016.4,699.6 976.5,710.0" fill="#3f7cc6"/>
<polygon points="976.5,710.0 1016.4,699.6 1005.7,717.0 964.1,730.0" fill="#3f7cc6"/>
<polygon points="1048.8,647.5 1085.0,640.0 1075.4,655.5 1038.0,664.9" fill="#17a9e1"/>
<polygon points="1038.0,664.9 1075.4,655.5 1065.8,671.0 1027.2,682.2" fill="#17a9e1"/>
<polygon points="1027.2,682.2 1065.8,671.0 1056.2,686.5 1016.4,699.6" fill="#2a92d6"/>
<polygon points="1016.4,699.6 1056.2,686.5 1046.6,702.0 1005.7,717.0" fill="#3d62b6"/>
<polygon points="1085.0,640.0 1118.8,635.0 1110.4,648.5 1075.4,655.5" fill="#17a9e1"/>
<polygon points="1075.4,655.5 1110.4,648.5 1102.0,662.0 1065.8,671.0" fill="#17a9e1"/>
<polygon points="1065.8,671.0 1102.0,662.0 1093.6,675.5 1056.2,686.5" fill="#3f7cc6"/>
<polygon points="1056.2,686.5 1093.6,675.5 1085.3,689.0 1046.6,702.0" fill="#3f7cc6"/>
<polygon points="1118.8,635.0 1153.0,619.5 1143.4,635.0 1110.4,648.5" fill="#17a9e1"/>
<polygon points="1110.4,648.5 1143.4,635.0 1133.8,650.5 1102.0,662.0" fill="#17a9e1"/>
<polygon points="1102.0,662.0 1133.8,650.5 1124.2,666.0 1093.6,675.5" fill="#3f7cc6"/>
<polygon points="1093.6,675.5 1124.2,666.0 1114.6,681.5 1085.3,689.0" fill="#3f7cc6"/>
<polygon points="1153.0,619.5 1187.7,611.8 1180.7,623.0 1143.4,635.0" fill="#17a9e1"/>
<polygon points="1143.4,635.0 1180.7,623.0 1173.8,634.3 1133.8,650.5" fill="#17a9e1"/>
<polygon points="1133.8,650.5 1173.8,634.3 1166.8,645.5 1124.2,666.0" fill="#2a92d6"/>
<polygon points="1124.2,666.0 1166.8,645.5 1159.8,656.8 1114.6,681.5" fill="#3f7cc6"/>
<polygon points="1187.7,611.8 1225.0,596.5 1216.0,611.0 1180.7,623.0" fill="#17a9e1"/>
<polygon points="1180.7,623.0 1216.0,611.0 1207.0,625.5 1173.8,634.3" fill="#17a9e1"/>
<polygon points="1173.8,634.3 1207.0,625.5 1198.0,640.0 1166.8,645.5" fill="#3f7cc6"/>
<polygon points="1166.8,645.5 1198.0,640.0 1189.0,654.5 1159.8,656.8" fill="#3f7cc6"/>
<polygon points="1225.0,596.5 1259.0,585.0 1249.9,599.6 1216.0,611.0" fill="#17a9e1"/>
<polygon points="1216.0,611.0 1249.9,599.6 1240.9,614.2 1207.0,625.5" fill="#17a9e1"/>
<polygon points="1207.0,625.5 1240.9,614.2 1231.8,628.9 1198.0,640.0" fill="#3f7cc6"/>
<polygon points="1198.0,640.0 1231.8,628.9 1222.7,643.5 1189.0,654.5" fill="#3d62b6"/>
<polygon points="1259.0,585.0 1294.0,574.5 1283.8,590.9 1249.9,599.6" fill="#17a9e1"/>
<polygon points="1249.9,599.6 1283.8,590.9 1273.7,607.2 1240.9,614.2" fill="#17a9e1"/>
<polygon points="1240.9,614.2 1273.7,607.2 1263.5,623.6 1231.8,628.9" fill="#2a92d6"/>
<polygon points="1231.8,628.9 1263.5,623.6 1253.4,640.0 1222.7,643.5" fill="#3f7cc6"/>
<polygon points="1294.0,574.5 1329.3,566.5 1318.1,584.5 1283.8,590.9" fill="#17a9e1"/>
<polygon points="1283.8,590.9 1318.1,584.5 1307.0,602.5 1273.7,607.2" fill="#17a9e1"/>
<polygon points="1273.7,607.2 1307.0,602.5 1295.8,620.5 1263.5,623.6" fill="#3f7cc6"/>
<polygon points="1263.5,623.6 1295.8,620.5 1284.7,638.5 1253.4,640.0" fill="#3f7cc6"/>
<polygon points="1329.3,566.5 1364.0,548.5 1349.4,572.0 1318.1,584.5" fill="#17a9e1"/>
<polygon points="1318.1,584.5 1349.4,572.0 1334.9,595.5 1307.0,602.5" fill="#17a9e1"/>
<polygon points="1307.0,602.5 1334.9,595.5 1320.3,619.0 1295.8,620.5" fill="#3f7cc6"/>
<polygon points="1295.8,620.5 1320.3,619.0 1305.7,642.5 1284.7,638.5" fill="#3f7cc6"/>
<polygon points="1364.0,548.5 1399.5,549.5 1387.3,569.2 1349.4,572.0" fill="#17a9e1"/>
<polygon points="1349.4,572.0 1387.3,569.2 1375.0,589.0 1334.9,595.5" fill="#17a9e1"/>
<polygon points="1334.9,595.5 1375.0,589.0 1362.8,608.8 1320.3,619.0" fill="#2a92d6"/>
<polygon points="1320.3,619.0 1362.8,608.8 1350.5,628.5 1305.7,642.5" fill="#3f7cc6"/>
<polygon points="1399.5,549.5 1433.5,539.0 1419.5,561.5 1387.3,569.2" fill="#17a9e1"/>
<polygon points="1387.3,569.2 1419.5,561.5 1405.6,584.0 1375.0,589.0" fill="#17a9e1"/>
<polygon points="1375.0,589.0 1405.6,584.0 1391.7,606.5 1362.8,608.8" fill="#3f7cc6"/>
<polygon points="1362.8,608.8 1391.7,606.5 1377.7,629.0 1350.5,628.5" fill="#3d62b6"/>
<polygon points="1433.5,539.0 1469.0,516.0 1452.5,542.6 1419.5,561.5" fill="#17a9e1"/>
<polygon points="1419.5,561.5 1452.5,542.6 1436.0,569.2 1405.6,584.0" fill="#17a9e1"/>
<polygon points="1405.6,584.0 1436.0,569.2 1419.5,595.9 1391.7,606.5" fill="#3f7cc6"/>
<polygon points="1391.7,606.5 1419.5,595.9 1403.0,622.5 1377.7,629.0" fill="#3f7cc6"/>
<polygon points="1469.0,516.0 1504.0,525.0 1491.8,544.6 1452.5,542.6" fill="#17a9e1"/>
<polygon points="1452.5,542.6 1491.8,544.6 1479.7,564.2 1436.0,569.2" fill="#17a9e1"/>
<polygon points="1436.0,569.2 1479.7,564.2 1467.5,583.9 1419.5,595.9" fill="#2a92d6"/>
<polygon points="1419.5,595.9 1467.5,583.9 1455.3,603.5 1403.0,622.5" fill="#3f7cc6"/>
<polygon points="1504.0,525.0 1540.0,515.0 1529.0,532.8 1491.8,544.6" fill="#17a9e1"/>
<polygon points="1491.8,544.6 1529.0,532.8 1518.0,550.5 1479.7,564.2" fill="#17a9e1"/>
<polygon points="1479.7,564.2 1518.0,550.5 1507.0,568.2 1467.5,583.9" fill="#3f7cc6"/>
<polygon points="1467.5,583.9 1507.0,568.2 1496.0,586.0 1455.3,603.5" fill="#3f7cc6"/>
<polygon points="1540.0,515.0 1575.0,502.5 1565.5,517.9 1529.0,532.8" fill="#17a9e1"/>
<polygon points="1529.0,532.8 1565.5,517.9 1555.9,533.2 1518.0,550.5" fill="#17a9e1"/>
<polygon points="1518.0,550.5 1555.9,533.2 1546.4,548.6 1507.0,568.2" fill="#3f7cc6"/>
<polygon points="1507.0,568.2 1546.4,548.6 1536.9,564.0 1496.0,586.0" fill="#3f7cc6"/>
<polygon points="1575.0,502.5 1610.0,482.5 1603.9,492.4 1565.5,517.9" fill="#17a9e1"/>
<polygon points="1565.5,517.9 1603.9,492.4 1597.8,502.2 1555.9,533.2" fill="#17a9e1"/>
<polygon points="1555.9,533.2 1597.8,502.2 1591.6,512.1 1546.4,548.6" fill="#2a92d6"/>
<polygon points="1546.4,548.6 1591.6,512.1 1585.5,522.0 1536.9,564.0" fill="#3d62b6"/>
<polygon points="1610.0,482.5 1642.5,467.5 1641.6,469.0 1603.9,492.4" fill="#17a9e1"/>
<polygon points="1603.9,492.4 1641.6,469.0 1640.6,470.5 1597.8,502.2" fill="#17a9e1"/>
<polygon points="1597.8,502.2 1640.6,470.5 1639.7,472.0 1591.6,512.1" fill="#3f7cc6"/>
<polygon points="1591.6,512.1 1639.7,472.0 1638.8,473.5 1585.5,522.0" fill="#3f7cc6"/>
<polygon points="1642.5,467.5 1675.5,453.5 1674.6,455.0 1641.6,469.0" fill="#17a9e1"/>
<polygon points="1641.6,469.0 1674.6,455.0 1673.6,456.5 1640.6,470.5" fill="#17a9e1"/>
<polygon points="1640.6,470.5 1673.6,456.5 1672.7,458.0 1639.7,472.0" fill="#3f7cc6"/>
<polygon points="1639.7,472.0 1672.7,458.0 1671.8,459.5 1638.8,473.5" fill="#3f7cc6"/>
<polyline points="840.0,682.5 766.4,801.2" fill="none" stroke="#161616" stroke-width="2.9" stroke-linejoin="round" stroke-linecap="round" />
<polyline points="873.8,676.0 807.5,782.9" fill="none" stroke="#161616" stroke-width="2.9" stroke-linejoin="round" stroke-linecap="round" />
<polyline points="907.5,678.8 842.4,783.8" fill="none" stroke="#161616" stroke-width="2.9" stroke-linejoin="round" stroke-linecap="round" />
<polyline points="942.5,666.0 881.7,764.1" fill="none" stroke="#161616" stroke-width="2.9" stroke-linejoin="round" stroke-linecap="round" />
<polyline points="977.5,662.5 915.1,763.1" fill="none" stroke="#161616" stroke-width="2.9" stroke-linejoin="round" stroke-linecap="round" />
<polyline points="1013.8,650.0 951.8,750.0" fill="none" stroke="#161616" stroke-width="2.9" stroke-linejoin="round" stroke-linecap="round" />
<polyline points="1048.8,647.5 994.9,734.4" fill="none" stroke="#161616" stroke-width="2.9" stroke-linejoin="round" stroke-linecap="round" />
<polyline points="1085.0,640.0 1037.0,717.5" fill="none" stroke="#161616" stroke-width="2.9" stroke-linejoin="round" stroke-linecap="round" />
<polyline points="1118.8,635.0 1076.9,702.5" fill="none" stroke="#161616" stroke-width="2.9" stroke-linejoin="round" stroke-linecap="round" />
<polyline points="1153.0,619.5 1105.0,697.0" fill="none" stroke="#161616" stroke-width="2.9" stroke-linejoin="round" stroke-linecap="round" />
<polyline points="1187.7,611.8 1152.8,668.0" fill="none" stroke="#161616" stroke-width="2.9" stroke-linejoin="round" stroke-linecap="round" />
<polyline points="1225.0,596.5 1180.0,669.0" fill="none" stroke="#161616" stroke-width="2.9" stroke-linejoin="round" stroke-linecap="round" />
<polyline points="1259.0,585.0 1213.7,658.1" fill="none" stroke="#161616" stroke-width="2.9" stroke-linejoin="round" stroke-linecap="round" />
<polyline points="1294.0,574.5 1243.2,656.4" fill="none" stroke="#161616" stroke-width="2.9" stroke-linejoin="round" stroke-linecap="round" />
<polyline points="1329.3,566.5 1273.5,656.5" fill="none" stroke="#161616" stroke-width="2.9" stroke-linejoin="round" stroke-linecap="round" />
<polyline points="1364.0,548.5 1291.2,666.0" fill="none" stroke="#161616" stroke-width="2.9" stroke-linejoin="round" stroke-linecap="round" />
<polyline points="1399.5,549.5 1338.3,648.2" fill="none" stroke="#161616" stroke-width="2.9" stroke-linejoin="round" stroke-linecap="round" />
<polyline points="1433.5,539.0 1363.8,651.5" fill="none" stroke="#161616" stroke-width="2.9" stroke-linejoin="round" stroke-linecap="round" />
<polyline points="1469.0,516.0 1386.5,649.1" fill="none" stroke="#161616" stroke-width="2.9" stroke-linejoin="round" stroke-linecap="round" />
<polyline points="1504.0,525.0 1443.2,623.1" fill="none" stroke="#161616" stroke-width="2.9" stroke-linejoin="round" stroke-linecap="round" />
<polyline points="1540.0,515.0 1485.0,603.8" fill="none" stroke="#161616" stroke-width="2.9" stroke-linejoin="round" stroke-linecap="round" />
<polyline points="1575.0,502.5 1527.3,579.4" fill="none" stroke="#161616" stroke-width="2.9" stroke-linejoin="round" stroke-linecap="round" />
<polyline points="1610.0,482.5 1579.4,531.9" fill="none" stroke="#161616" stroke-width="2.9" stroke-linejoin="round" stroke-linecap="round" />
<polyline points="1642.5,467.5 1637.8,475.0" fill="none" stroke="#161616" stroke-width="2.9" stroke-linejoin="round" stroke-linecap="round" />
<polyline points="1675.5,453.5 1670.8,461.0" fill="none" stroke="#161616" stroke-width="2.9" stroke-linejoin="round" stroke-linecap="round" />
<polyline points="825.3,703.8 860.5,699.9 894.5,697.2 930.3,688.1 965.0,680.1 1001.4,672.5 1038.0,662.4 1075.4,658.0 1110.4,646.0 1143.4,637.5 1180.7,620.5 1216.0,613.5 1249.9,597.1 1283.8,593.4 1318.1,582.0 1349.4,574.5 1387.3,566.8 1419.5,564.0 1452.5,540.1 1491.8,547.1 1529.0,530.2 1565.5,520.4 1603.9,489.9 1641.6,471.5 1674.6,452.5" fill="none" stroke="#161616" stroke-width="2.9" stroke-linejoin="round" stroke-linecap="round" />
<polyline points="810.5,732.5 847.2,716.2 881.5,723.2 918.2,702.8 952.5,705.2 989.0,687.5 1027.2,684.8 1065.8,668.5 1102.0,664.5 1133.8,648.0 1173.8,636.8 1207.0,623.0 1240.9,616.8 1273.7,604.8 1307.0,605.0 1334.9,593.0 1375.0,591.5 1405.6,581.5 1436.0,571.8 1479.7,561.8 1518.0,553.0 1555.9,530.8 1597.8,504.8 1640.6,468.0 1673.6,459.0" fill="none" stroke="#161616" stroke-width="2.9" stroke-linejoin="round" stroke-linecap="round" />
<polyline points="795.8,751.2 834.0,742.6 868.4,739.2 906.0,727.4 940.1,720.4 976.5,712.5 1016.4,697.1 1056.2,689.0 1093.6,673.0 1124.2,668.5 1166.8,643.0 1198.0,642.5 1231.8,626.4 1263.5,626.1 1295.8,618.0 1320.3,621.5 1362.8,606.2 1391.7,609.0 1419.5,593.4 1467.5,586.4 1507.0,565.8 1546.4,551.1 1591.6,509.6 1639.7,474.5 1672.7,455.5" fill="none" stroke="#161616" stroke-width="2.9" stroke-linejoin="round" stroke-linecap="round" />
<polyline points="781.1,780.0 820.7,759.0 855.4,765.2 893.8,742.0 927.6,745.5 964.1,727.5 1005.7,719.5 1046.6,699.5 1085.3,691.5 1114.6,679.0 1159.8,659.3 1189.0,652.0 1222.7,646.0 1253.4,637.5 1284.7,641.0 1305.7,640.0 1350.5,631.0 1377.7,626.5 1403.0,625.0 1455.3,601.0 1496.0,588.5 1536.9,561.5 1585.5,524.5 1638.8,471.0 1671.8,462.0" fill="none" stroke="#161616" stroke-width="2.9" stroke-linejoin="round" stroke-linecap="round" />
</g>
<polygon points="634.4,745.4 650.0,754.8 680.0,766.8 704.0,771.6 719.6,771.6 732.8,767.4 752.0,774.0 776.0,777.6 788.0,777.0 807.3,768.0 824.0,759.6 855.7,762.5 860.0,762.5 882.5,745.0 932.5,742.5 970.0,727.5 1020.0,712.5 1070.0,692.5 1120.0,680.0 1147.5,657.5 1210.0,652.5 1227.5,640.0 1265.0,640.0 1280.0,637.0 1312.5,643.8 1327.5,625.0 1370.0,631.0 1420.0,617.5 1470.0,597.5 1520.0,575.0 1557.5,550.0 1587.5,520.0 1607.5,492.5 1620.0,482.5 1642.5,467.5 1642.5,460.0 1400.0,540.0 1100.0,630.0 840.0,675.0 809.7,706.0 795.0,721.0 776.0,739.2 740.0,736.2 704.0,750.0 669.2,735.6 634.4,745.4" fill="none" stroke="#161616" stroke-width="3.0" stroke-linejoin="round" />
<polyline points="634.4,745.4 669.2,735.6 704.0,750.0 740.0,736.2 776.0,739.2 795.0,721.0 809.7,706.0 840.0,683.0" fill="none" stroke="#161616" stroke-width="2.0" stroke-linejoin="round" stroke-linecap="round" />
<polygon points="905.5,455.8 937.7,447.6 918.8,506.0 890.0,511.0" fill="#fbb62d" stroke="#161616" stroke-width="2.8" stroke-linejoin="round" />
<polygon points="937.7,447.6 972.9,439.8 953.8,500.0 918.8,506.0" fill="#fbb62d" stroke="#161616" stroke-width="2.8" stroke-linejoin="round" />
<polygon points="972.9,439.8 1007.3,431.2 990.0,487.5 953.8,500.0" fill="#fbb62d" stroke="#161616" stroke-width="2.8" stroke-linejoin="round" />
<polygon points="1007.3,431.2 1042.3,422.2 1025.0,481.0 990.0,487.5" fill="#fbb62d" stroke="#161616" stroke-width="2.8" stroke-linejoin="round" />
<polygon points="1042.3,422.2 1077.4,412.5 1060.0,470.0 1025.0,481.0" fill="#fbb62d" stroke="#161616" stroke-width="2.8" stroke-linejoin="round" />
<polygon points="1077.4,412.5 1112.4,402.7 1095.0,461.0 1060.0,470.0" fill="#fbb62d" stroke="#161616" stroke-width="2.8" stroke-linejoin="round" />
<polygon points="1112.4,402.7 1147.4,393.7 1130.0,451.0 1095.0,461.0" fill="#fbb62d" stroke="#161616" stroke-width="2.8" stroke-linejoin="round" />
<polygon points="1147.4,393.7 1182.4,384.8 1165.0,440.0 1130.0,451.0" fill="#fbb62d" stroke="#161616" stroke-width="2.8" stroke-linejoin="round" />
<polygon points="1182.4,384.8 1217.4,374.2 1200.0,430.0 1165.0,440.0" fill="#fbb62d" stroke="#161616" stroke-width="2.8" stroke-linejoin="round" />
<polygon points="1217.4,374.2 1252.4,363.6 1235.0,419.0 1200.0,430.0" fill="#fbb62d" stroke="#161616" stroke-width="2.8" stroke-linejoin="round" />
<polygon points="1252.4,363.6 1287.5,353.2 1271.0,391.0 1235.0,419.0" fill="#fbb62d" stroke="#161616" stroke-width="2.8" stroke-linejoin="round" />
<polygon points="1287.5,353.2 1322.0,343.9 1307.5,391.0 1271.0,391.0" fill="#fbb62d" stroke="#161616" stroke-width="2.8" stroke-linejoin="round" />
<polygon points="1322.0,343.9 1357.1,334.4 1342.5,386.0 1307.5,391.0" fill="#fbb62d" stroke="#161616" stroke-width="2.8" stroke-linejoin="round" />
<polygon points="1357.1,334.4 1392.2,325.0 1379.0,379.0 1342.5,386.0" fill="#fbb62d" stroke="#161616" stroke-width="2.8" stroke-linejoin="round" />
<polygon points="1392.2,325.0 1427.2,315.5 1414.0,367.5 1379.0,379.0" fill="#fbb62d" stroke="#161616" stroke-width="2.8" stroke-linejoin="round" />
<polygon points="1427.2,315.5 1462.3,306.1 1447.5,364.0 1414.0,367.5" fill="#fbb62d" stroke="#161616" stroke-width="2.8" stroke-linejoin="round" />
<polygon points="1462.3,306.1 1497.4,296.6 1482.5,355.0 1447.5,364.0" fill="#fbb62d" stroke="#161616" stroke-width="2.8" stroke-linejoin="round" />
<polygon points="1497.4,296.6 1532.4,287.2 1519.0,342.5 1482.5,355.0" fill="#fbb62d" stroke="#161616" stroke-width="2.8" stroke-linejoin="round" />
<polygon points="1532.4,287.2 1567.5,277.7 1552.5,339.0 1519.0,342.5" fill="#fbb62d" stroke="#161616" stroke-width="2.8" stroke-linejoin="round" />
<polygon points="1567.5,277.7 1602.6,268.3 1587.5,330.0 1552.5,339.0" fill="#fbb62d" stroke="#161616" stroke-width="2.8" stroke-linejoin="round" />
<polygon points="1602.6,268.3 1637.7,258.8 1622.5,322.5 1587.5,330.0" fill="#fbb62d" stroke="#161616" stroke-width="2.8" stroke-linejoin="round" />
<polygon points="1637.7,258.8 1672.7,249.4 1657.5,306.0 1622.5,322.5" fill="#fbb62d" stroke="#161616" stroke-width="2.8" stroke-linejoin="round" />
<polygon points="1672.7,249.4 1707.8,239.9 1692.5,295.0 1657.5,306.0" fill="#fbb62d" stroke="#161616" stroke-width="2.8" stroke-linejoin="round" />
<polygon points="890.0,511.0 918.8,506.0 901.0,542.5 873.8,547.5" fill="#f3e11f" stroke="#161616" stroke-width="2.8" stroke-linejoin="round" />
<polygon points="918.8,506.0 953.8,500.0 936.0,537.5 901.0,542.5" fill="#f3e11f" stroke="#161616" stroke-width="2.8" stroke-linejoin="round" />
<polygon points="953.8,500.0 990.0,487.5 971.0,527.5 936.0,537.5" fill="#f3e11f" stroke="#161616" stroke-width="2.8" stroke-linejoin="round" />
<polygon points="990.0,487.5 1025.0,481.0 1007.5,521.0 971.0,527.5" fill="#f3e11f" stroke="#161616" stroke-width="2.8" stroke-linejoin="round" />
<polygon points="1025.0,481.0 1060.0,470.0 1042.5,510.0 1007.5,521.0" fill="#f3e11f" stroke="#161616" stroke-width="2.8" stroke-linejoin="round" />
<polygon points="1060.0,470.0 1095.0,461.0 1077.5,502.5 1042.5,510.0" fill="#f3e11f" stroke="#161616" stroke-width="2.8" stroke-linejoin="round" />
<polygon points="1095.0,461.0 1130.0,451.0 1112.5,492.5 1077.5,502.5" fill="#f3e11f" stroke="#161616" stroke-width="2.8" stroke-linejoin="round" />
<polygon points="1130.0,451.0 1165.0,440.0 1147.5,484.0 1112.5,492.5" fill="#f3e11f" stroke="#161616" stroke-width="2.8" stroke-linejoin="round" />
<polygon points="1165.0,440.0 1200.0,430.0 1185.0,474.0 1147.5,484.0" fill="#f3e11f" stroke="#161616" stroke-width="2.8" stroke-linejoin="round" />
<polygon points="1200.0,430.0 1235.0,419.0 1220.0,461.0 1185.0,474.0" fill="#f3e11f" stroke="#161616" stroke-width="2.8" stroke-linejoin="round" />
<polygon points="1235.0,419.0 1271.0,391.0 1255.0,440.0 1220.0,461.0" fill="#f3e11f" stroke="#161616" stroke-width="2.8" stroke-linejoin="round" />
<polygon points="1271.0,391.0 1307.5,391.0 1290.0,436.0 1255.0,440.0" fill="#f3e11f" stroke="#161616" stroke-width="2.8" stroke-linejoin="round" />
<polygon points="1307.5,391.0 1342.5,386.0 1326.0,427.5 1290.0,436.0" fill="#f3e11f" stroke="#161616" stroke-width="2.8" stroke-linejoin="round" />
<polygon points="1342.5,386.0 1379.0,379.0 1357.5,424.0 1326.0,427.5" fill="#f3e11f" stroke="#161616" stroke-width="2.8" stroke-linejoin="round" />
<polygon points="1379.0,379.0 1414.0,367.5 1392.5,410.0 1357.5,424.0" fill="#f3e11f" stroke="#161616" stroke-width="2.8" stroke-linejoin="round" />
<polygon points="1414.0,367.5 1447.5,364.0 1427.5,404.0 1392.5,410.0" fill="#f3e11f" stroke="#161616" stroke-width="2.8" stroke-linejoin="round" />
<polygon points="1447.5,364.0 1482.5,355.0 1462.5,395.0 1427.5,404.0" fill="#f3e11f" stroke="#161616" stroke-width="2.8" stroke-linejoin="round" />
<polygon points="1482.5,355.0 1519.0,342.5 1497.5,380.0 1462.5,395.0" fill="#f3e11f" stroke="#161616" stroke-width="2.8" stroke-linejoin="round" />
<polygon points="1519.0,342.5 1552.5,339.0 1531.0,377.5 1497.5,380.0" fill="#f3e11f" stroke="#161616" stroke-width="2.8" stroke-linejoin="round" />
<polygon points="1552.5,339.0 1587.5,330.0 1567.5,370.0 1531.0,377.5" fill="#f3e11f" stroke="#161616" stroke-width="2.8" stroke-linejoin="round" />
<polygon points="1587.5,330.0 1622.5,322.5 1602.5,360.0 1567.5,370.0" fill="#f3e11f" stroke="#161616" stroke-width="2.8" stroke-linejoin="round" />
<polygon points="1622.5,322.5 1657.5,306.0 1637.5,347.5 1602.5,360.0" fill="#f3e11f" stroke="#161616" stroke-width="2.8" stroke-linejoin="round" />
<polygon points="1657.5,306.0 1692.5,295.0 1675.0,334.0 1637.5,347.5" fill="#f3e11f" stroke="#161616" stroke-width="2.8" stroke-linejoin="round" />
<polygon points="873.8,547.5 901.0,542.5 887.5,577.5 857.5,585.0" fill="#9ccb3e" stroke="#161616" stroke-width="2.8" stroke-linejoin="round" />
<polygon points="901.0,542.5 936.0,537.5 922.5,572.5 887.5,577.5" fill="#9ccb3e" stroke="#161616" stroke-width="2.8" stroke-linejoin="round" />
<polygon points="936.0,537.5 971.0,527.5 957.5,564.0 922.5,572.5" fill="#9ccb3e" stroke="#161616" stroke-width="2.8" stroke-linejoin="round" />
<polygon points="971.0,527.5 1007.5,521.0 992.5,559.0 957.5,564.0" fill="#9ccb3e" stroke="#161616" stroke-width="2.8" stroke-linejoin="round" />
<polygon points="1007.5,521.0 1042.5,510.0 1027.5,547.5 992.5,559.0" fill="#9ccb3e" stroke="#161616" stroke-width="2.8" stroke-linejoin="round" />
<polygon points="1042.5,510.0 1077.5,502.5 1062.5,540.0 1027.5,547.5" fill="#9ccb3e" stroke="#161616" stroke-width="2.8" stroke-linejoin="round" />
<polygon points="1077.5,502.5 1112.5,492.5 1097.5,530.0 1062.5,540.0" fill="#9ccb3e" stroke="#161616" stroke-width="2.8" stroke-linejoin="round" />
<polygon points="1112.5,492.5 1147.5,484.0 1132.5,522.5 1097.5,530.0" fill="#9ccb3e" stroke="#161616" stroke-width="2.8" stroke-linejoin="round" />
<polygon points="1147.5,484.0 1185.0,474.0 1169.0,510.0 1132.5,522.5" fill="#9ccb3e" stroke="#161616" stroke-width="2.8" stroke-linejoin="round" />
<polygon points="1185.0,474.0 1220.0,461.0 1204.0,502.5 1169.0,510.0" fill="#9ccb3e" stroke="#161616" stroke-width="2.8" stroke-linejoin="round" />
<polygon points="1220.0,461.0 1255.0,440.0 1240.0,490.0 1204.0,502.5" fill="#9ccb3e" stroke="#161616" stroke-width="2.8" stroke-linejoin="round" />
<polygon points="1255.0,440.0 1290.0,436.0 1272.5,477.5 1240.0,490.0" fill="#9ccb3e" stroke="#161616" stroke-width="2.8" stroke-linejoin="round" />
<polygon points="1290.0,436.0 1326.0,427.5 1307.5,471.0 1272.5,477.5" fill="#9ccb3e" stroke="#161616" stroke-width="2.8" stroke-linejoin="round" />
<polygon points="1326.0,427.5 1357.5,424.0 1342.5,462.5 1307.5,471.0" fill="#9ccb3e" stroke="#161616" stroke-width="2.8" stroke-linejoin="round" />
<polygon points="1357.5,424.0 1392.5,410.0 1377.5,446.0 1342.5,462.5" fill="#9ccb3e" stroke="#161616" stroke-width="2.8" stroke-linejoin="round" />
<polygon points="1392.5,410.0 1427.5,404.0 1414.0,441.0 1377.5,446.0" fill="#9ccb3e" stroke="#161616" stroke-width="2.8" stroke-linejoin="round" />
<polygon points="1427.5,404.0 1462.5,395.0 1449.0,431.0 1414.0,441.0" fill="#9ccb3e" stroke="#161616" stroke-width="2.8" stroke-linejoin="round" />
<polygon points="1462.5,395.0 1497.5,380.0 1482.5,416.0 1449.0,431.0" fill="#9ccb3e" stroke="#161616" stroke-width="2.8" stroke-linejoin="round" />
<polygon points="1497.5,380.0 1531.0,377.5 1517.5,415.0 1482.5,416.0" fill="#9ccb3e" stroke="#161616" stroke-width="2.8" stroke-linejoin="round" />
<polygon points="1531.0,377.5 1567.5,370.0 1554.0,405.0 1517.5,415.0" fill="#9ccb3e" stroke="#161616" stroke-width="2.8" stroke-linejoin="round" />
<polygon points="1567.5,370.0 1602.5,360.0 1587.5,397.5 1554.0,405.0" fill="#9ccb3e" stroke="#161616" stroke-width="2.8" stroke-linejoin="round" />
<polygon points="1602.5,360.0 1637.5,347.5 1622.5,385.0 1587.5,397.5" fill="#9ccb3e" stroke="#161616" stroke-width="2.8" stroke-linejoin="round" />
<polygon points="1637.5,347.5 1675.0,334.0 1657.5,370.0 1622.5,385.0" fill="#9ccb3e" stroke="#161616" stroke-width="2.8" stroke-linejoin="round" />
<polygon points="857.5,585.0 887.5,577.5 873.8,676.0 840.0,682.5" fill="#58b67b" stroke="#161616" stroke-width="2.8" stroke-linejoin="round" />
<polygon points="887.5,577.5 922.5,572.5 907.5,678.8 873.8,676.0" fill="#58b67b" stroke="#161616" stroke-width="2.8" stroke-linejoin="round" />
<polygon points="922.5,572.5 957.5,564.0 942.5,666.0 907.5,678.8" fill="#58b67b" stroke="#161616" stroke-width="2.8" stroke-linejoin="round" />
<polygon points="957.5,564.0 992.5,559.0 977.5,662.5 942.5,666.0" fill="#58b67b" stroke="#161616" stroke-width="2.8" stroke-linejoin="round" />
<polygon points="992.5,559.0 1027.5,547.5 1013.8,650.0 977.5,662.5" fill="#58b67b" stroke="#161616" stroke-width="2.8" stroke-linejoin="round" />
<polygon points="1027.5,547.5 1062.5,540.0 1048.8,647.5 1013.8,650.0" fill="#58b67b" stroke="#161616" stroke-width="2.8" stroke-linejoin="round" />
<polygon points="1062.5,540.0 1097.5,530.0 1085.0,640.0 1048.8,647.5" fill="#58b67b" stroke="#161616" stroke-width="2.8" stroke-linejoin="round" />
<polygon points="1097.5,530.0 1132.5,522.5 1118.8,635.0 1085.0,640.0" fill="#58b67b" stroke="#161616" stroke-width="2.8" stroke-linejoin="round" />
<polygon points="1132.5,522.5 1169.0,510.0 1153.0,619.5 1118.8,635.0" fill="#58b67b" stroke="#161616" stroke-width="2.8" stroke-linejoin="round" />
<polygon points="1169.0,510.0 1204.0,502.5 1187.7,611.8 1153.0,619.5" fill="#58b67b" stroke="#161616" stroke-width="2.8" stroke-linejoin="round" />
<polygon points="1204.0,502.5 1240.0,490.0 1225.0,596.5 1187.7,611.8" fill="#58b67b" stroke="#161616" stroke-width="2.8" stroke-linejoin="round" />
<polygon points="1240.0,490.0 1272.5,477.5 1259.0,585.0 1225.0,596.5" fill="#58b67b" stroke="#161616" stroke-width="2.8" stroke-linejoin="round" />
<polygon points="1272.5,477.5 1307.5,471.0 1294.0,574.5 1259.0,585.0" fill="#58b67b" stroke="#161616" stroke-width="2.8" stroke-linejoin="round" />
<polygon points="1307.5,471.0 1342.5,462.5 1329.3,566.5 1294.0,574.5" fill="#58b67b" stroke="#161616" stroke-width="2.8" stroke-linejoin="round" />
<polygon points="1342.5,462.5 1377.5,446.0 1364.0,548.5 1329.3,566.5" fill="#58b67b" stroke="#161616" stroke-width="2.8" stroke-linejoin="round" />
<polygon points="1377.5,446.0 1414.0,441.0 1399.5,549.5 1364.0,548.5" fill="#58b67b" stroke="#161616" stroke-width="2.8" stroke-linejoin="round" />
<polygon points="1414.0,441.0 1449.0,431.0 1433.5,539.0 1399.5,549.5" fill="#58b67b" stroke="#161616" stroke-width="2.8" stroke-linejoin="round" />
<polygon points="1449.0,431.0 1482.5,416.0 1469.0,516.0 1433.5,539.0" fill="#58b67b" stroke="#161616" stroke-width="2.8" stroke-linejoin="round" />
<polygon points="1482.5,416.0 1517.5,415.0 1504.0,525.0 1469.0,516.0" fill="#58b67b" stroke="#161616" stroke-width="2.8" stroke-linejoin="round" />
<polygon points="1517.5,415.0 1554.0,405.0 1540.0,515.0 1504.0,525.0" fill="#58b67b" stroke="#161616" stroke-width="2.8" stroke-linejoin="round" />
<polygon points="1554.0,405.0 1587.5,397.5 1575.0,502.5 1540.0,515.0" fill="#58b67b" stroke="#161616" stroke-width="2.8" stroke-linejoin="round" />
<polygon points="1587.5,397.5 1622.5,385.0 1610.0,482.5 1575.0,502.5" fill="#58b67b" stroke="#161616" stroke-width="2.8" stroke-linejoin="round" />
<polygon points="1622.5,385.0 1657.5,370.0 1642.5,467.5 1610.0,482.5" fill="#58b67b" stroke="#161616" stroke-width="2.8" stroke-linejoin="round" />
<polyline points="905.5,455.8 937.7,447.6 972.9,439.8 1007.3,431.2 1042.3,422.2 1077.4,412.5 1112.4,402.7 1147.4,393.7 1182.4,384.8 1217.4,374.2 1252.4,363.6 1287.5,353.2 1322.0,343.9 1357.1,334.4 1392.2,325.0 1427.2,315.5 1462.3,306.1 1497.4,296.6 1532.4,287.2 1567.5,277.7 1602.6,268.3 1637.7,258.8 1672.7,249.4 1707.8,239.9 1725.0,232.8" fill="none" stroke="#161616" stroke-width="3.6" stroke-linejoin="round" stroke-linecap="round" />
<polyline points="840.0,682.5 873.8,676.0 907.5,678.8 942.5,666.0 977.5,662.5 1013.8,650.0 1048.8,647.5 1085.0,640.0 1118.8,635.0 1153.0,619.5 1187.7,611.8 1225.0,596.5 1259.0,585.0 1294.0,574.5 1329.3,566.5 1364.0,548.5 1399.5,549.5 1433.5,539.0 1469.0,516.0 1504.0,525.0 1540.0,515.0 1575.0,502.5 1610.0,482.5 1642.5,467.5" fill="none" stroke="#161616" stroke-width="3.2" stroke-linejoin="round" stroke-linecap="round" />
</svg></body></html>
